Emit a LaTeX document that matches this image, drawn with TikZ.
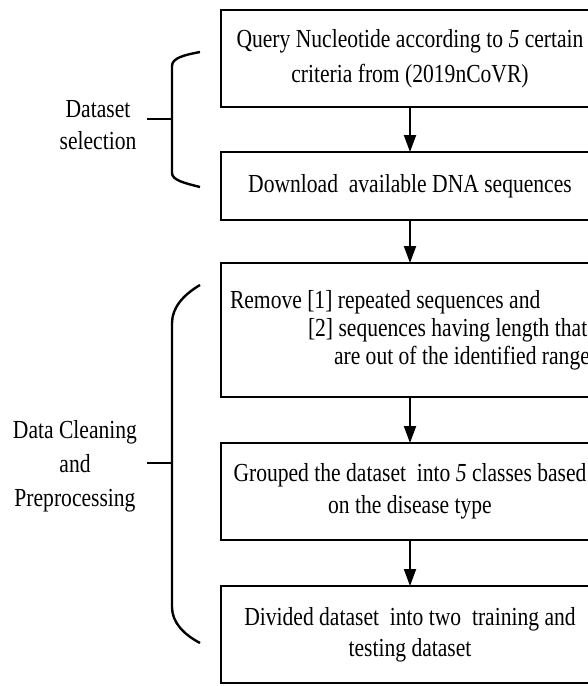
\documentclass[tikz,border=0pt]{standalone}
\usepackage{fontspec}
\setmainfont[FakeStretch=0.83]{Liberation Serif}
\usetikzlibrary{arrows.meta}
\begin{document}
\begin{tikzpicture}[x=1pt,y=-1pt,
  stepbox/.style={draw, line width=2.6pt, anchor=north west, inner xsep=5pt, inner ysep=0pt, outer sep=0pt, minimum width=378pt, align=center},
  flow/.style={-{Triangle[width=12pt,length=17pt]}, line width=2pt},
  brace/.style={line width=2.4pt},
  lab/.style={align=center}]
\useasboundingbox (0,0) rectangle (588,686);
\clip (0,0) rectangle (588,686);
\fill[white] (0,0) rectangle (588,686);
% boxes
\node[stepbox, minimum height=97pt, font=\fontsize{26}{35}\selectfont] (b1) at (221,10)
  {Query Nucleotide according to \textit{5} certain\\criteria from (2019nCoVR)};
\node[stepbox, minimum height=68pt, font=\fontsize{26}{30}\selectfont] (b2) at (221,152)
  {Download\ \ available DNA sequences};
\node[stepbox, minimum height=134pt, inner xsep=9pt, text width=380pt, align=flush left, font=\fontsize{26}{28}\selectfont] (b3) at (221,263)
  {Remove [1] repeated sequences and\\
   \hspace*{78pt}[2] sequences having length that\\
   \hspace*{104pt}are out of the identified range};
\node[stepbox, minimum height=97pt, font=\fontsize{26}{32}\selectfont] (b4) at (221,443)
  {Grouped the dataset\ \ into \textit{5} classes based\\on the disease type};
\node[stepbox, minimum height=97pt, font=\fontsize{26}{31}\selectfont] (b5) at (221,586)
  {Divided dataset\ \ into two\ \ training and\\testing dataset};
% arrows
\coordinate (ax) at (410,0);
\draw[flow] (b1.south -| ax) -- (b2.north -| ax);
\draw[flow] (b2.south -| ax) -- (b3.north -| ax);
\draw[flow] (b3.south -| ax) -- (b4.north -| ax);
\draw[flow] (b4.south -| ax) -- (b5.north -| ax);
% braces
\coordinate (m1) at (172,119);
\coordinate (m2) at (172,463);
\draw[brace] (200,52) .. controls (184,55) and (172,58) .. (172,66) -- (172,173) .. controls (172,180) and (184,183) .. (200,187);
\draw[brace] (200,285) .. controls (183,295) and (172,308) .. (172,323) -- (172,607) .. controls (172,622) and (183,634) .. (200,643);
\draw[brace] (m1) -- ++(-25,0);
\draw[brace] (m2) -- ++(-25,0);
% labels
\node[lab, font=\fontsize{26}{32}\selectfont] (l1) at (98,125) {Dataset\\selection};
\node[lab, font=\fontsize{26}{34}\selectfont] (l2) at (75,466) {Data Cleaning\\and\\Preprocessing};
\end{tikzpicture}
\end{document}
